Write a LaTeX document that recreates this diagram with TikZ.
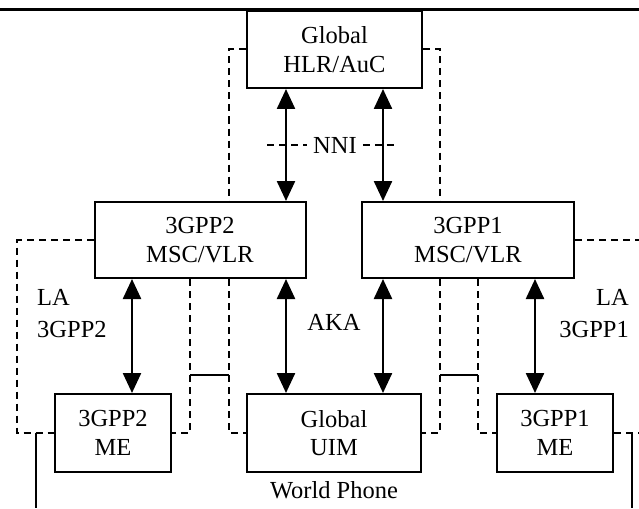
\documentclass[tikz,border=0pt]{standalone}
\usepackage{fontspec}
\setmainfont{Liberation Serif}
\usetikzlibrary{arrows.meta}
\begin{document}
\begin{tikzpicture}[x=1pt,y=-1pt,
  box/.style={draw,line width=2pt,rectangle,inner sep=0pt,align=center,
    font=\fontsize{24.5}{28.5}\selectfont},
  lbl/.style={inner sep=0pt,font=\fontsize{24.5}{32}\selectfont},
  dsh/.style={line width=2pt,dash pattern=on 7pt off 5pt},
  thin/.style={line width=2pt},
  biarrow/.style={line width=2.4pt,{Triangle[length=20pt,width=18pt]}-{Triangle[length=20pt,width=18pt]}}]
\useasboundingbox (0,0) rectangle (639,508);

% top rule
\coordinate (tl) at (0,10);
\coordinate (tr) at (639,10);
\draw[line width=3pt] (tl) -- (tr);

% network elements
\node[box,minimum width=175pt,minimum height=77pt] (hlr) at (334.5,49.5) {Global\\HLR/AuC};
\node[box,minimum width=211pt,minimum height=76pt] (msc2) at (200,240) {3GPP2\\MSC/VLR};
\node[box,minimum width=212pt,minimum height=76pt] (msc1) at (468,240) {3GPP1\\MSC/VLR};
\node[box,minimum width=116pt,minimum height=78pt] (me2) at (113,433) {3GPP2\\ME};
\node[box,minimum width=174pt,minimum height=78pt] (uim) at (334,433) {Global\\UIM};
\node[box,minimum width=116pt,minimum height=78pt] (me1) at (555,433) {3GPP1\\ME};
\node[lbl] (wp) at (334,490) {World Phone};

% column positions of the connectors
\coordinate (x0) at (17,0);
\coordinate (x1) at (36,0);
\coordinate (xl2) at (132,0);
\coordinate (x2) at (190,0);
\coordinate (x3) at (229,0);
\coordinate (xa) at (286,0);
\coordinate (xb) at (383,0);
\coordinate (x4) at (440,0);
\coordinate (x5) at (478,0);
\coordinate (xl1) at (535,0);
\coordinate (x6) at (632,0);
\coordinate (xe) at (639,0);
\coordinate (bot) at (0,508);
\coordinate (mid) at (0,375);

% dashed domain outlines
\draw[dsh] (hlr.west) -| (x3 |- msc2.north);
\draw[dsh] (x3 |- msc2.south) |- (uim.west);
\draw[dsh] (hlr.east) -| (x4 |- msc1.north);
\draw[dsh] (x4 |- msc1.south) |- (uim.east);
\draw[dsh] (msc2.west) -| (x0 |- me2.west) -- (me2.west);
\draw[dsh] (x2 |- msc2.south) |- (me2.east);
\draw[dsh] (msc1.east) -- (msc1.east -| xe);
\draw[dsh] (x5 |- msc1.south) |- (me1.west);
\draw[dsh] (me1.east) -- (me1.east -| xe);

% solid links
\draw[thin] (x2 |- mid) -- (x3 |- mid);
\draw[thin] (x4 |- mid) -- (x5 |- mid);
\draw[thin] (x1 |- me2.west) -- (x1 |- bot);
\draw[thin] (x6 |- me1.east) -- (x6 |- bot);

% NNI boundary
\node[lbl] (nni) at (335,145) {NNI};
\coordinate (nl) at (267,145);
\coordinate (nr) at (397,145);
\draw[dsh] (nl) -- ([xshift=-6pt]nni.west);
\draw[dsh] ([xshift=6pt]nni.east) -- (nr);

% interfaces
\draw[biarrow] (xa |- hlr.south) -- (xa |- msc2.north);
\draw[biarrow] (xb |- hlr.south) -- (xb |- msc1.north);
\draw[biarrow] (xl2 |- msc2.south) -- (xl2 |- me2.north);
\draw[biarrow] (xa |- msc2.south) -- (xa |- uim.north);
\draw[biarrow] (xb |- msc1.south) -- (xb |- uim.north);
\draw[biarrow] (xl1 |- msc1.south) -- (xl1 |- me1.north);

% interface labels
\node[lbl] (aka) at (334,322) {AKA};
\node[lbl,anchor=west,align=left] (la2) at (37,314) {LA\\3GPP2};
\node[lbl,anchor=east,align=right] (la1) at (629,314) {LA\\3GPP1};
\end{tikzpicture}
\end{document}
